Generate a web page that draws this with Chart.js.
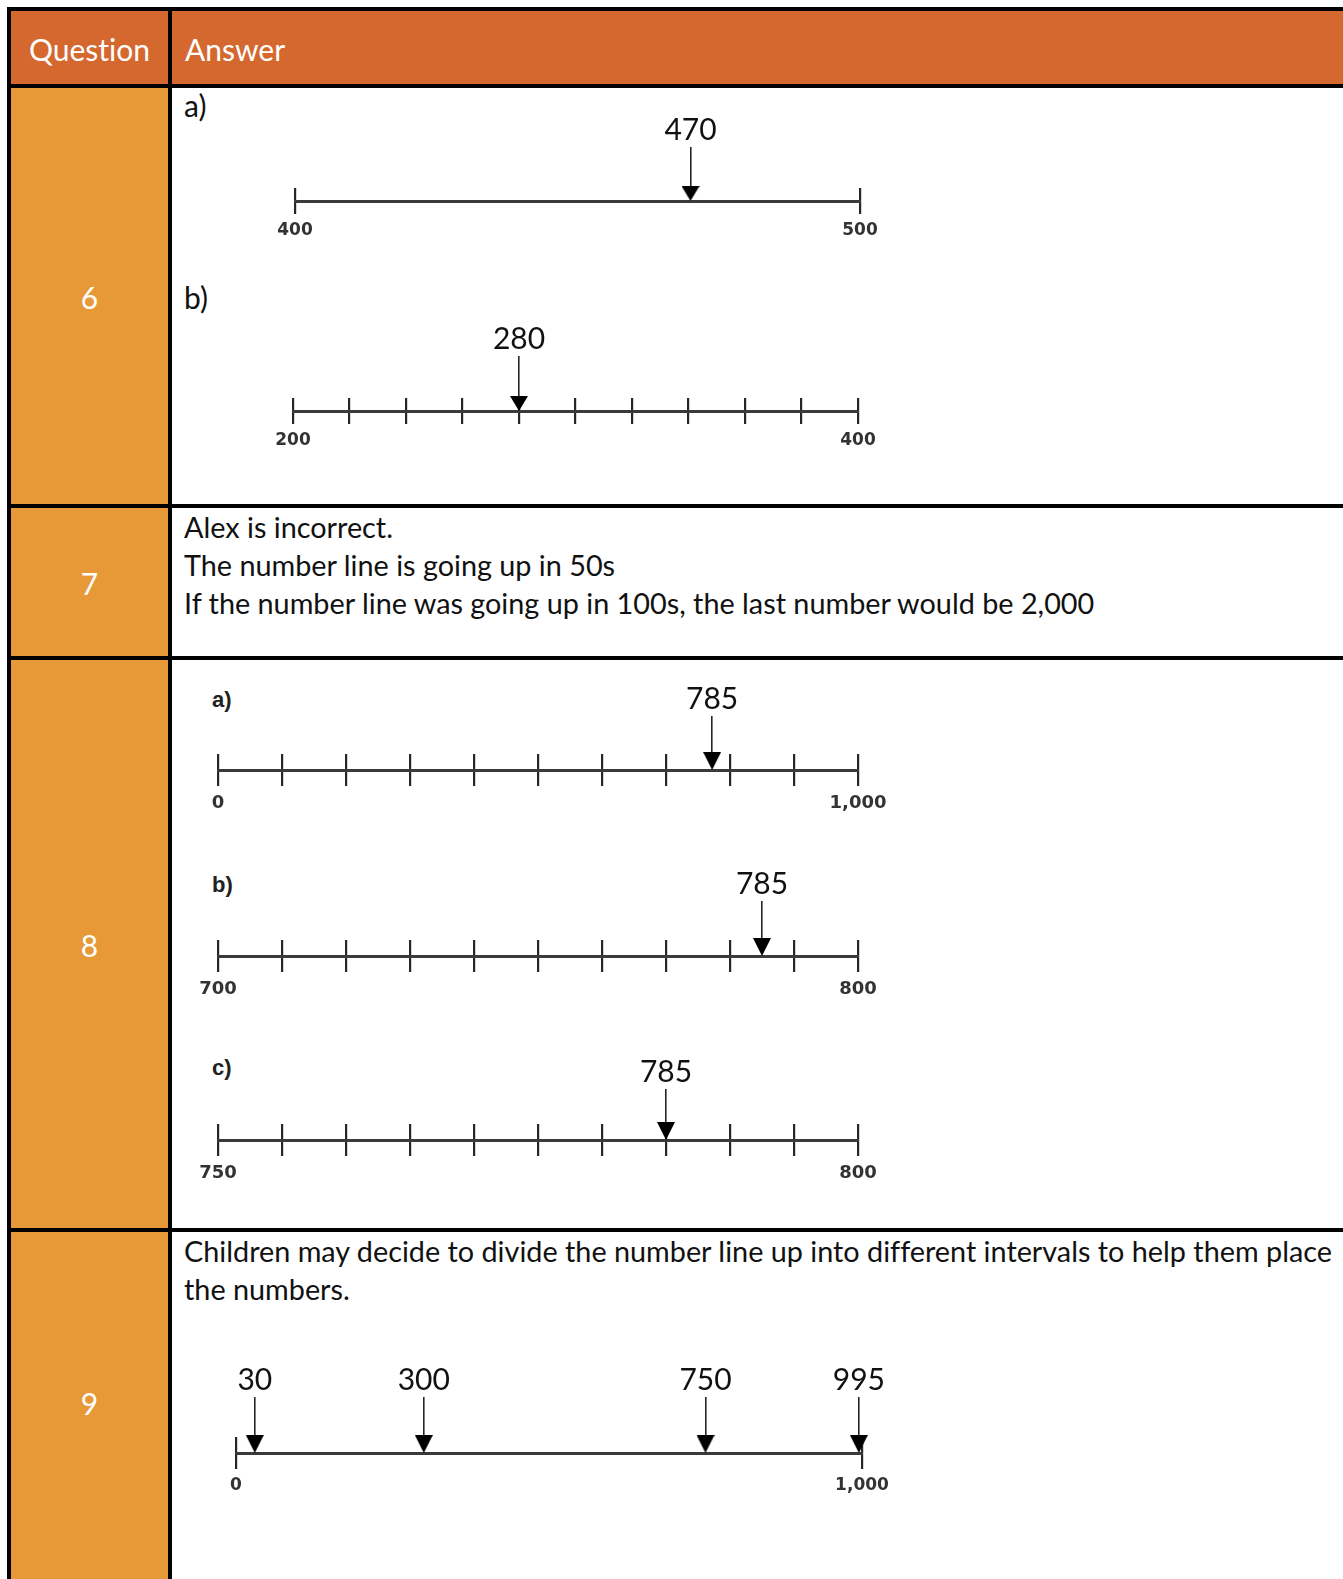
<!DOCTYPE html>
<html>
<head>
<meta charset="utf-8">
<title>Number lines – answers</title>
<script src="https://cdn.jsdelivr.net/npm/chart.js@4.4.0/dist/chart.umd.min.js"></script>
<style>
  body { margin: 0; background: #fff; }
  #page { position: relative; width: 1343px; height: 1579px; overflow: hidden; font-family: Lato, sans-serif; font-variant-ligatures: none; }
  .fill { position: absolute; }
  .rule { position: absolute; background: #000; }
  .txt { position: absolute; font-size: 28.8px; line-height: 38px; color: #111; white-space: nowrap; }
  .head { position: absolute; top: 30px; font-size: 30px; line-height: 38px; color: #fff; white-space: nowrap; }
  .num { position: absolute; left: 11px; width: 157px; text-align: center; color: #fff; font-size: 30px; line-height: 38px; }
  .part { position: absolute; left: 212px; font-family: "Liberation Sans", Arial, sans-serif; font-weight: bold; font-size: 22px; line-height: 26px; color: #222; }
  canvas { position: absolute; }
</style>
</head>
<body>
<div id="page">
  <!-- fills -->
  <div class="fill" style="left:11px;top:11px;width:1332px;height:73px;background:#d4682e"></div>
  <div class="fill" style="left:11px;top:88px;width:157px;height:1491px;background:#e79938"></div>

  <!-- table rules -->
  <div class="rule" style="left:7px;top:7px;width:1336px;height:4px"></div>
  <div class="rule" style="left:7px;top:84px;width:1336px;height:4px"></div>
  <div class="rule" style="left:7px;top:504px;width:1336px;height:4px"></div>
  <div class="rule" style="left:7px;top:656px;width:1336px;height:4px"></div>
  <div class="rule" style="left:7px;top:1228px;width:1336px;height:4px"></div>
  <div class="rule" style="left:7px;top:7px;width:4px;height:1572px"></div>
  <div class="rule" style="left:168px;top:7px;width:4px;height:1572px"></div>

  <!-- header -->
  <div class="head" style="left:11px;width:157px;text-align:center">Question</div>
  <div class="head" style="left:185px">Answer</div>

  <!-- question numbers -->
  <div class="num" style="top:278px">6</div>
  <div class="num" style="top:564px">7</div>
  <div class="num" style="top:926px">8</div>
  <div class="num" style="top:1384px">9</div>

  <!-- answer text -->
  <div class="txt" style="left:184px;top:86px;font-size:30px">a)</div>
  <div class="txt" style="left:184px;top:278px;font-size:30px">b)</div>
  <div class="txt" style="left:184px;top:508px">Alex is incorrect.<br>The number line is going up in 50s<br>If the number line was going up in 100s, the last number would be 2,000</div>
  <div class="part" style="top:687px">a)</div>
  <div class="part" style="top:872px">b)</div>
  <div class="part" style="top:1055px">c)</div>
  <div class="txt" style="left:184px;top:1232px">Children may decide to divide the number line up into different intervals to help them place<br>the numbers.</div>
</div>

<script>
// ---- data ----

// Q6 a)
const q6aRange = [400, 500];
const q6aStep = 100;
const q6aMarks = [470];
const q6aMarkLabels = ["470"];
const q6aEndLabels = ["400", "500"];

// Q6 b)
const q6bRange = [200, 400];
const q6bStep = 20;
const q6bMarks = [280];
const q6bMarkLabels = ["280"];
const q6bEndLabels = ["200", "400"];

// Q8 a) - the arrow in the reference sits a little left of 785
const q8aRange = [0, 1000];
const q8aStep = 100;
const q8aMarks = [772];
const q8aMarkLabels = ["785"];
const q8aEndLabels = ["0", "1,000"];

// Q8 b)
const q8bRange = [700, 800];
const q8bStep = 10;
const q8bMarks = [785];
const q8bMarkLabels = ["785"];
const q8bEndLabels = ["700", "800"];

// Q8 c)
const q8cRange = [750, 800];
const q8cStep = 5;
const q8cMarks = [785];
const q8cMarkLabels = ["785"];
const q8cEndLabels = ["750", "800"];

// Q9
const q9Range = [0, 1000];
const q9Step = 1000;
const q9Marks = [30, 300, 750, 995];
const q9MarkLabels = ["30", "300", "750", "995"];
const q9EndLabels = ["0", "1,000"];

const INK = "#262626";

/**
 * Arrow head used as point style: triangle in the upper half,
 * tip at the centre so the point sits on the line.
 */
function makeArrowHead(w, h) {
  const c = document.createElement("canvas");
  c.width = w;
  c.height = h * 2;
  const ctx = c.getContext("2d");
  ctx.fillStyle = "#000";
  ctx.beginPath();
  ctx.moveTo(0, 0);
  ctx.lineTo(w, 0);
  ctx.lineTo(w / 2, h);
  ctx.closePath();
  ctx.fill();
  return c;
}

/**
 * Build one number line chart
 * @param {Object} d - data (range, step, marks, labels)
 * @param {Object} box - placement on the page
 */
function makeNumberLine(d, box) {
  const P = 45;
  const padTop = 6;
  const padBottom = 6;
  const labelSize = 30;
  const topH = box.stem + box.labelGap + labelSize;
  const bottomH = box.tickHalf + box.tickPad + 24;
  const width = box.right - box.left + 2 * P;
  const height = padTop + topH + box.tickHalf + bottomH + padBottom;

  const canvas = document.createElement("canvas");
  canvas.width = width;
  canvas.height = height;
  canvas.style.width = width + "px";
  canvas.style.height = height + "px";
  canvas.style.left = box.left - P + "px";
  canvas.style.top = box.lineY - box.tickHalf - topH - padTop + "px";
  document.getElementById("page").appendChild(canvas);

  const tickValues = [];
  for (let v = d.range[0]; v <= d.range[1] + 1e-9; v += d.step) {
    tickValues.push(v);
  }

  return new Chart(canvas, {
    type: "scatter",
    data: {
      datasets: [
        {
          data: d.marks.map((v) => ({ x: v, y: 0 })),
          pointStyle: makeArrowHead(18, box.tickHalf + 2),
          pointRadius: 9,
          clip: false,
        },
      ],
    },
    options: {
      responsive: false,
      animation: false,
      events: [],
      layout: { padding: { left: P, right: P, top: padTop, bottom: padBottom } },
      plugins: { legend: { display: false }, tooltip: { enabled: false } },
      scales: {
        x: {
          type: "linear",
          position: "bottom",
          min: d.range[0],
          max: d.range[1],
          afterBuildTicks: (s) => {
            s.ticks = tickValues.map((v) => ({ value: v }));
          },
          afterFit: (s) => {
            s.height = bottomH;
          },
          border: { display: true, color: "#3a3a3a", width: 3 },
          grid: {
            color: INK,
            lineWidth: 2.2,
            tickLength: box.tickHalf,
            drawOnChartArea: true,
            drawTicks: true,
          },
          ticks: {
            autoSkip: false,
            maxRotation: 0,
            minRotation: 0,
            padding: box.tickPad,
            color: "#333",
            font: { family: "DejaVu Sans", size: box.endSize, weight: "bold", lineHeight: 1.2 },
            callback: (v, i, ticks) =>
              i === 0 ? d.endLabels[0] : i === ticks.length - 1 ? d.endLabels[1] : "",
          },
        },
        x2: {
          type: "linear",
          position: "top",
          min: d.range[0],
          max: d.range[1],
          afterBuildTicks: (s) => {
            s.ticks = d.marks.map((v) => ({ value: v }));
          },
          afterFit: (s) => {
            s.height = topH;
          },
          border: { display: false },
          grid: {
            display: true,
            drawOnChartArea: false,
            drawTicks: true,
            tickLength: box.stem,
            color: INK,
            lineWidth: 1.6,
          },
          ticks: {
            autoSkip: false,
            maxRotation: 0,
            minRotation: 0,
            padding: box.labelGap,
            color: "#111",
            font: { family: "Lato", size: labelSize, weight: "normal", lineHeight: 1 },
            callback: (v, i) => d.markLabels[i],
          },
        },
        y: { display: false, min: 0, max: 1 },
      },
    },
  });
}

makeNumberLine(
  { range: q6aRange, step: q6aStep, marks: q6aMarks, markLabels: q6aMarkLabels, endLabels: q6aEndLabels },
  { left: 295, right: 860, lineY: 201, tickHalf: 13, tickPad: 6, stem: 41, labelGap: 2, endSize: 17 },
);
makeNumberLine(
  { range: q6bRange, step: q6bStep, marks: q6bMarks, markLabels: q6bMarkLabels, endLabels: q6bEndLabels },
  { left: 293, right: 858, lineY: 411, tickHalf: 13, tickPad: 6, stem: 42, labelGap: 2, endSize: 17 },
);
makeNumberLine(
  { range: q8aRange, step: q8aStep, marks: q8aMarks, markLabels: q8aMarkLabels, endLabels: q8aEndLabels },
  { left: 218, right: 858, lineY: 770, tickHalf: 16, tickPad: 7, stem: 38, labelGap: 2, endSize: 18 },
);
makeNumberLine(
  { range: q8bRange, step: q8bStep, marks: q8bMarks, markLabels: q8bMarkLabels, endLabels: q8bEndLabels },
  { left: 218, right: 858, lineY: 956, tickHalf: 16, tickPad: 7, stem: 39, labelGap: 2, endSize: 18 },
);
makeNumberLine(
  { range: q8cRange, step: q8cStep, marks: q8cMarks, markLabels: q8cMarkLabels, endLabels: q8cEndLabels },
  { left: 218, right: 858, lineY: 1140, tickHalf: 16, tickPad: 7, stem: 35, labelGap: 2, endSize: 18 },
);
makeNumberLine(
  { range: q9Range, step: q9Step, marks: q9Marks, markLabels: q9MarkLabels, endLabels: q9EndLabels },
  { left: 236, right: 862, lineY: 1453, tickHalf: 16, tickPad: 6, stem: 40, labelGap: 2, endSize: 17 },
);
</script>
</body>
</html>
